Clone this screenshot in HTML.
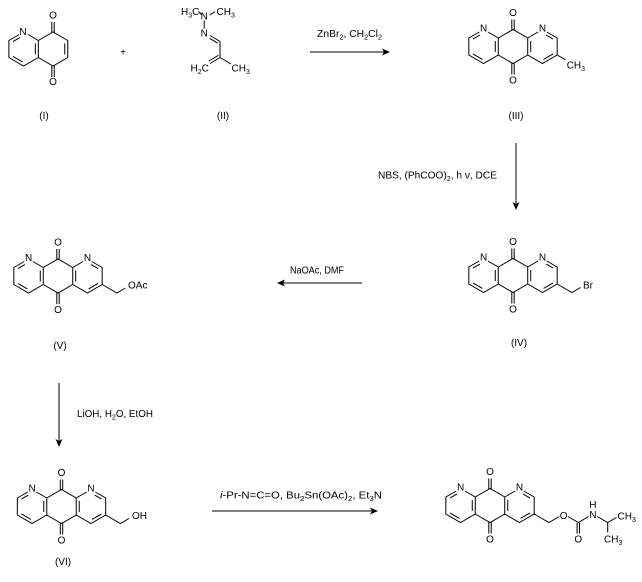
<!DOCTYPE html>
<html>
<head>
<meta charset="utf-8">
<style>
html,body{margin:0;padding:0;background:#fff;}
svg{display:block;}
text{font-family:"Liberation Sans",Arial,sans-serif;font-size:10px;fill:#000;}
.b{stroke:#000;stroke-width:1;fill:none;}
.m{text-anchor:middle;}
</style>
</head>
<body>
<svg xmlns="http://www.w3.org/2000/svg" width="642" height="582" viewBox="0 0 642 582">

<!-- Compound I -->
<path class="b" d="M19.27,34.5L8.88,40.5L8.88,57.5L23.6,66L38.32,57.5L38.32,40.5L27.93,34.5 M38.32,40.5L53.04,32L67.76,40.5L67.76,57.5L53.04,66L38.32,57.5 M19.9,37.6L12.98,41.6 M12.97,56.4L22.49,61.9 M35.32,43.5L35.32,54.5 M64.76,43.5L64.76,54.5 M51.84,32.7L51.84,22 M54.24,32.7L54.24,22 M51.84,65.3L51.84,77 M54.24,65.3L54.24,77"/>
<text x="23" y="35" class="m">N</text>
<text x="53" y="18.5" class="m">O</text>
<text x="53" y="85" class="m">O</text>
<text x="44" y="119" class="m">(I)</text>

<!-- plus -->
<text x="123" y="55.5" class="m">+</text>

<!-- Compound II -->
<text x="181" y="15">H<tspan font-size="7" dy="2.5">3</tspan><tspan dy="-2.5">C</tspan></text>
<text x="204.2" y="19.3" class="m">N</text>
<text x="216.5" y="15">CH<tspan font-size="7" dy="2.5">3</tspan></text>
<text x="204.2" y="36.7" class="m">N</text>
<text x="190.5" y="71.5">H<tspan font-size="7" dy="2.5">2</tspan><tspan dy="-2.5">C</tspan></text>
<text x="231.5" y="71.5">CH<tspan font-size="7" dy="2.5">3</tspan></text>
<path class="b" d="M198.5,11.5L201.5,14.5 M209.5,15L215,11.7 M204.2,20.5L204.2,28.5 M210,35.5L220,41.5 M209.5,38.3L217.6,43.2 M220,41.5L220,57.5 M220,57.5L210,63.5 M218.4,55.3L208.8,61 M220,57.5L231,64"/>
<text x="223" y="119" class="m">(II)</text>

<!-- Arrow 1 -->
<path class="b" d="M310,52L384,52"/>
<polygon points="390,52 382,48.5 384,52 382,55.5" fill="#000"/>
<text x="317" y="37" textLength="65" lengthAdjust="spacingAndGlyphs">ZnBr<tspan font-size="7" dy="2.5">2</tspan><tspan dy="-2.5">, CH</tspan><tspan font-size="7" dy="2.5">2</tspan><tspan dy="-2.5">Cl</tspan><tspan font-size="7" dy="2.5">2</tspan></text>

<!-- Compound III -->
<g transform="translate(513,46.5)">
<path class="b" d="M-33.77,-14.5L-44.17,-8.5L-44.17,8.5L-29.44,17L-14.72,8.5L-14.72,-8.5L-25.11,-14.5 M-14.72,-8.5L0,-17L14.72,-8.5L14.72,8.5L0,17L-14.72,8.5 M14.72,-8.5L25.11,-14.5 M33.77,-14.5L44.17,-8.5L44.17,8.5L29.44,17L14.72,8.5 M-33.14,-11.4L-40.06,-7.4 M-40.07,7.4L-30.55,12.9 M-17.72,-5.5L-17.72,5.5 M33.14,-11.4L40.06,-7.4 M40.07,7.4L30.55,12.9 M17.72,-5.5L17.72,5.5 M-1.2,-16.3L-1.2,-27 M1.2,-16.3L1.2,-27 M-1.2,16.3L-1.2,28 M1.2,16.3L1.2,28 M44.17,8.5L52.5,13.3"/>
<text x="-29.44" y="-14.8" class="m">N</text>
<text x="29.44" y="-14.8" class="m">N</text>
<text x="0" y="-30.6" class="m">O</text>
<text x="0" y="37" class="m">O</text>
<text x="53.7" y="21.8">CH<tspan font-size="7" dy="2.5">3</tspan></text>
</g>
<text x="516" y="119" class="m">(III)</text>

<!-- Arrow 2 -->
<path class="b" d="M516,143L516,204"/>
<polygon points="516,210 512.5,202 516,204 519.5,202" fill="#000"/>
<text x="378" y="178.5" textLength="119" lengthAdjust="spacingAndGlyphs">NBS, (PhCOO)<tspan font-size="7" dy="2.5">2</tspan><tspan dy="-2.5">, h ν, DCE</tspan></text>

<!-- Compound IV -->
<g transform="translate(513,275.5)">
<path class="b" d="M-33.77,-14.5L-44.17,-8.5L-44.17,8.5L-29.44,17L-14.72,8.5L-14.72,-8.5L-25.11,-14.5 M-14.72,-8.5L0,-17L14.72,-8.5L14.72,8.5L0,17L-14.72,8.5 M14.72,-8.5L25.11,-14.5 M33.77,-14.5L44.17,-8.5L44.17,8.5L29.44,17L14.72,8.5 M-33.14,-11.4L-40.06,-7.4 M-40.07,7.4L-30.55,12.9 M-17.72,-5.5L-17.72,5.5 M33.14,-11.4L40.06,-7.4 M40.07,7.4L30.55,12.9 M17.72,-5.5L17.72,5.5 M-1.2,-16.3L-1.2,-27 M1.2,-16.3L1.2,-27 M-1.2,16.3L-1.2,28 M1.2,16.3L1.2,28 M44.17,8.5L58.9,17L67.5,12"/>
<text x="-29.44" y="-14.8" class="m">N</text>
<text x="29.44" y="-14.8" class="m">N</text>
<text x="0" y="-30.6" class="m">O</text>
<text x="0" y="37" class="m">O</text>
<text x="70" y="13">Br</text>
</g>
<text x="519" y="346" class="m">(IV)</text>

<!-- Arrow 3 -->
<path class="b" d="M362,283L283,283"/>
<polygon points="277,283 285,279.5 283,283 285,286.5" fill="#000"/>
<text x="290" y="273.5" textLength="54" lengthAdjust="spacingAndGlyphs">NaOAc, DMF</text>

<!-- Compound V -->
<g transform="translate(58,276)">
<path class="b" d="M-33.77,-14.5L-44.17,-8.5L-44.17,8.5L-29.44,17L-14.72,8.5L-14.72,-8.5L-25.11,-14.5 M-14.72,-8.5L0,-17L14.72,-8.5L14.72,8.5L0,17L-14.72,8.5 M14.72,-8.5L25.11,-14.5 M33.77,-14.5L44.17,-8.5L44.17,8.5L29.44,17L14.72,8.5 M-33.14,-11.4L-40.06,-7.4 M-40.07,7.4L-30.55,12.9 M-17.72,-5.5L-17.72,5.5 M33.14,-11.4L40.06,-7.4 M40.07,7.4L30.55,12.9 M17.72,-5.5L17.72,5.5 M-1.2,-16.3L-1.2,-27 M1.2,-16.3L1.2,-27 M-1.2,16.3L-1.2,28 M1.2,16.3L1.2,28 M44.17,8.5L58.9,17L67.5,12"/>
<text x="-29.44" y="-14.8" class="m">N</text>
<text x="29.44" y="-14.8" class="m">N</text>
<text x="0" y="-30.6" class="m">O</text>
<text x="0" y="37" class="m">O</text>
<text x="70" y="12.5">OAc</text>
</g>
<text x="60" y="349" class="m">(V)</text>

<!-- Arrow 4 -->
<path class="b" d="M59,383L59,441"/>
<polygon points="59,447 55.5,439 59,441 62.5,439" fill="#000"/>
<text x="77" y="417" textLength="76" lengthAdjust="spacingAndGlyphs">LiOH, H<tspan font-size="7" dy="2.5">2</tspan><tspan dy="-2.5">O, EtOH</tspan></text>

<!-- Compound VI -->
<g transform="translate(61.5,506.5)">
<path class="b" d="M-33.77,-14.5L-44.17,-8.5L-44.17,8.5L-29.44,17L-14.72,8.5L-14.72,-8.5L-25.11,-14.5 M-14.72,-8.5L0,-17L14.72,-8.5L14.72,8.5L0,17L-14.72,8.5 M14.72,-8.5L25.11,-14.5 M33.77,-14.5L44.17,-8.5L44.17,8.5L29.44,17L14.72,8.5 M-33.14,-11.4L-40.06,-7.4 M-40.07,7.4L-30.55,12.9 M-17.72,-5.5L-17.72,5.5 M33.14,-11.4L40.06,-7.4 M40.07,7.4L30.55,12.9 M17.72,-5.5L17.72,5.5 M-1.2,-16.3L-1.2,-27 M1.2,-16.3L1.2,-27 M-1.2,16.3L-1.2,28 M1.2,16.3L1.2,28 M44.17,8.5L58.9,17L67.5,12"/>
<text x="-29.44" y="-14.8" class="m">N</text>
<text x="29.44" y="-14.8" class="m">N</text>
<text x="0" y="-30.6" class="m">O</text>
<text x="0" y="37" class="m">O</text>
<text x="70.5" y="12.5">OH</text>
</g>
<text x="63" y="565" class="m">(VI)</text>

<!-- Arrow 5 -->
<path class="b" d="M212,511L372,511"/>
<polygon points="378,511 370,507.5 372,511 370,514.5" fill="#000"/>
<text x="220" y="498.5" textLength="162" lengthAdjust="spacingAndGlyphs"><tspan font-style="italic">i</tspan>-Pr-N=C=O, Bu<tspan font-size="7" dy="2.5">2</tspan><tspan dy="-2.5">Sn(OAc)</tspan><tspan font-size="7" dy="2.5">2</tspan><tspan dy="-2.5">, Et</tspan><tspan font-size="7" dy="2.5">3</tspan><tspan dy="-2.5">N</tspan></text>

<!-- Final product -->
<g transform="translate(490,505.5)">
<path class="b" d="M-33.77,-14.5L-44.17,-8.5L-44.17,8.5L-29.44,17L-14.72,8.5L-14.72,-8.5L-25.11,-14.5 M-14.72,-8.5L0,-17L14.72,-8.5L14.72,8.5L0,17L-14.72,8.5 M14.72,-8.5L25.11,-14.5 M33.77,-14.5L44.17,-8.5L44.17,8.5L29.44,17L14.72,8.5 M-33.14,-11.4L-40.06,-7.4 M-40.07,7.4L-30.55,12.9 M-17.72,-5.5L-17.72,5.5 M33.14,-11.4L40.06,-7.4 M40.07,7.4L30.55,12.9 M17.72,-5.5L17.72,5.5 M-1.2,-16.3L-1.2,-27 M1.2,-16.3L1.2,-27 M-1.2,16.3L-1.2,28 M1.2,16.3L1.2,28 M44.17,8.5L58.9,17L69.3,11 M78,11L88.3,17L98.6,11 M87.1,17.5L87.1,28 M89.5,17.5L89.5,28 M107.2,11L117.7,17L126.5,12 M117.7,17L117.7,27"/>
<text x="-29.44" y="-14.8" class="m">N</text>
<text x="29.44" y="-14.8" class="m">N</text>
<text x="0" y="-30.6" class="m">O</text>
<text x="0" y="37" class="m">O</text>
<text x="73.6" y="13.5" class="m">O</text>
<text x="88.3" y="37" class="m">O</text>
<text x="102.9" y="12.5" class="m">N</text>
<text x="102.9" y="2.5" class="m">H</text>
<text x="127.5" y="14">CH<tspan font-size="7" dy="2.5">3</tspan></text>
<text x="114" y="37">CH<tspan font-size="7" dy="2.5">3</tspan></text>
</g>

</svg>
</body>
</html>
